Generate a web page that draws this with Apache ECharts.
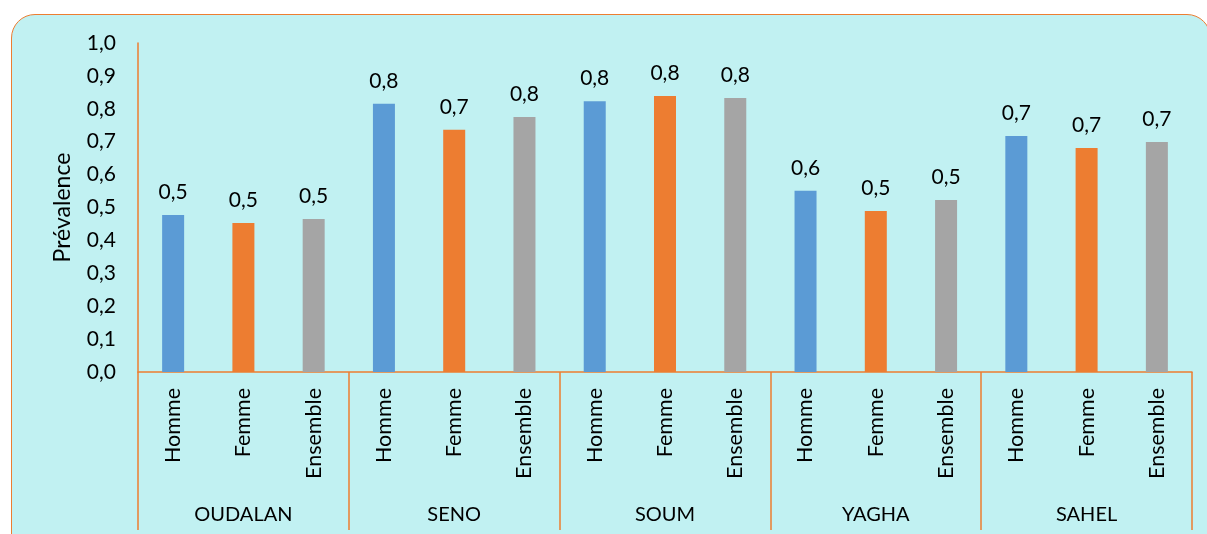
<!DOCTYPE html>
<html><head><meta charset="utf-8">
<script src="https://cdn.jsdelivr.net/npm/echarts@6/dist/echarts.min.js"></script>
<style>
html,body{margin:0;padding:0;background:#fff;width:1207px;height:534px;overflow:hidden;}
#bg{position:absolute;left:11px;top:14px;width:1200px;height:560px;background:#C1F1F2;border:1.5px solid #ED7D31;border-radius:24px;box-sizing:border-box;}
#c{position:absolute;left:0;top:0;width:1207px;height:534px;}
</style></head><body>
<div id="bg"></div>
<div id="c"></div>
<script>
const groups = ['OUDALAN','SENO','SOUM','YAGHA','SAHEL'];
const sexes = ['Homme','Femme','Ensemble'];
const homme = [0.477, 0.815, 0.823, 0.551, 0.717];
const femme = [0.453, 0.736, 0.839, 0.489, 0.681];
const ensemble = [0.465, 0.775, 0.833, 0.523, 0.699];
const yTicks = [0,0.1,0.2,0.3,0.4,0.5,0.6,0.7,0.8,0.9,1.0];
const colors = ['#5B9BD5','#ED7D31','#A5A5A5'];

const cats = [], vals = [];
groups.forEach((g,i)=>{
  [homme[i], femme[i], ensemble[i]].forEach((v,j)=>{
    cats.push(sexes[j]);
    vals.push({value:v, itemStyle:{color:colors[j]}});
  });
});
const fmt = v => v.toFixed(1).replace('.', ',');
const font = 'Lato, "Open Sans", sans-serif';
const chart = echarts.init(document.getElementById('c'));
chart.setOption({
  animation:false,
  backgroundColor:'transparent',
  grid:{left:138,right:15,top:43,bottom:162,containLabel:false},
  xAxis:[{
    type:'category', data:cats, position:'bottom',
    axisLine:{lineStyle:{color:'#ED7D31',width:1.5}},
    axisTick:{show:false},
    axisLabel:{rotate:90,margin:16,fontSize:21.5,color:'#000',fontFamily:font,interval:0}
  },{
    type:'category', data:groups, position:'bottom',
    axisLine:{show:false},
    axisTick:{show:true,length:158,lineStyle:{color:'#ED7D31',width:1.5}},
    axisLabel:{margin:133,fontSize:20,color:'#000',fontFamily:font,interval:0}
  }],
  yAxis:{
    type:'value', min:yTicks[0], max:yTicks[yTicks.length-1], interval:0.1,
    name:'Prévalence', nameLocation:'middle', nameGap:64, nameRotate:90,
    nameTextStyle:{fontSize:23,color:'#000',fontFamily:font},
    axisLine:{show:true,lineStyle:{color:'#ED7D31',width:1.5}},
    axisTick:{show:false},
    splitLine:{show:false},
    axisLabel:{fontSize:21,color:'#000',fontFamily:font,margin:22,formatter:v=>fmt(v)}
  },
  series:[{
    type:'bar', xAxisIndex:0, data:vals, barWidth:22,
    label:{show:true,position:'top',distance:12,fontSize:21,color:'#000',fontFamily:font,formatter:p=>fmt(p.value)}
  }]
});
</script>
</body></html>
